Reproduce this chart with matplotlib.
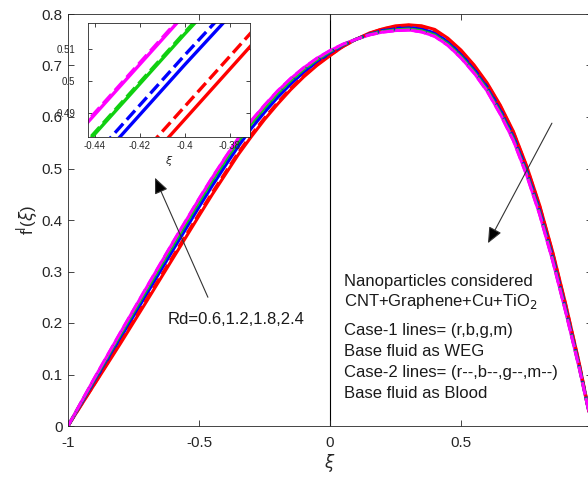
import matplotlib
matplotlib.use("Agg")
import matplotlib.pyplot as plt
import numpy as np

plt.rcParams['font.family'] = ['Liberation Sans', 'DejaVu Sans']
plt.rcParams['mathtext.fontset'] = 'dejavusans'

# values
xi = [-1, -0.95, -0.9, -0.8, -0.7, -0.6, -0.5, -0.45, -0.4, -0.35, -0.3, -0.25,
      -0.2, -0.15, -0.1, -0.05, 0, 0.05, 0.1, 0.15, 0.2, 0.25, 0.3, 0.35, 0.4,
      0.45, 0.5, 0.55, 0.6, 0.65, 0.7, 0.75, 0.8, 0.85, 0.9, 0.95, 1]

# case 1 (WEG), solid lines
red_1 = [0, 0.040, 0.080, 0.160, 0.242, 0.325, 0.408, 0.449, 0.488, 0.527, 0.562, 0.595,
         0.625, 0.653, 0.678, 0.700, 0.719, 0.737, 0.751, 0.763, 0.771, 0.777, 0.779,
         0.777, 0.770, 0.753, 0.730, 0.701, 0.666, 0.623, 0.572, 0.506, 0.429, 0.338,
         0.236, 0.125, 0]
blue_1 = [0, 0.043, 0.086, 0.171, 0.256, 0.341, 0.425, 0.466, 0.505, 0.543, 0.578, 0.609,
          0.638, 0.664, 0.687, 0.707, 0.724, 0.739, 0.751, 0.761, 0.768, 0.772, 0.774,
          0.771, 0.763, 0.746, 0.722, 0.693, 0.658, 0.614, 0.563, 0.497, 0.420, 0.329,
          0.228, 0.120, 0]
green_1 = [0, 0.0449, 0.0896, 0.1772, 0.2640, 0.3501, 0.4346, 0.4756, 0.5146, 0.5523,
           0.5869, 0.6173, 0.6455, 0.6704, 0.6923, 0.7111, 0.7269, 0.7404, 0.751,
           0.7600, 0.7661, 0.7694, 0.7709, 0.7675, 0.7592, 0.7419, 0.7177, 0.6884,
           0.6532, 0.6089, 0.5577, 0.4916, 0.4147, 0.3240, 0.2237, 0.1171, 0]
mag_1 = [0, 0.0461, 0.0920, 0.1812, 0.2690, 0.3559, 0.4407, 0.4817, 0.5207, 0.5582,
         0.5926, 0.6225, 0.6502, 0.6745, 0.6956, 0.7138, 0.7287, 0.7414, 0.751,
         0.7594, 0.7649, 0.7678, 0.7690, 0.7653, 0.7567, 0.7392, 0.7149, 0.6855,
         0.6501, 0.6057, 0.5544, 0.4882, 0.4114, 0.3208, 0.2209, 0.1153, 0]

# case 2 (Blood), dashed lines
red_2 = [0, 0.041, 0.081, 0.163, 0.246, 0.329, 0.412, 0.453, 0.492, 0.531, 0.566, 0.598,
         0.628, 0.656, 0.680, 0.702, 0.720, 0.737, 0.751, 0.762, 0.771, 0.775, 0.778,
         0.776, 0.768, 0.751, 0.728, 0.699, 0.664, 0.621, 0.570, 0.504, 0.427, 0.336,
         0.234, 0.124, 0]
blue_2 = [0, 0.0436, 0.0871, 0.1730, 0.2585, 0.3439, 0.4280, 0.4690, 0.5080, 0.5459,
          0.5808, 0.6116, 0.6403, 0.6660, 0.6887, 0.7083, 0.7249, 0.7395, 0.751,
          0.7607, 0.7674, 0.7712, 0.7730, 0.7699, 0.7618, 0.7447, 0.7206, 0.6916,
          0.6565, 0.6124, 0.5613, 0.4953, 0.4183, 0.3274, 0.2266, 0.1191, 0]
green_2 = [0, 0.0450, 0.0898, 0.1776, 0.2644, 0.3506, 0.4351, 0.4761, 0.5151, 0.5528,
           0.5874, 0.6177, 0.6459, 0.6708, 0.6926, 0.7113, 0.7270, 0.7405, 0.751,
           0.7600, 0.7660, 0.7693, 0.7708, 0.7674, 0.7590, 0.7417, 0.7175, 0.6882,
           0.6529, 0.6086, 0.5574, 0.4913, 0.4144, 0.3237, 0.2235, 0.1170, 0]
mag_2 = [0, 0.0462, 0.0922, 0.1815, 0.2694, 0.3564, 0.4412, 0.4822, 0.5212, 0.5587,
         0.5931, 0.6229, 0.6506, 0.6749, 0.6959, 0.7140, 0.7289, 0.7414, 0.751,
         0.7594, 0.7648, 0.7676, 0.7688, 0.7652, 0.7565, 0.7390, 0.7147, 0.6852,
         0.6499, 0.6054, 0.5541, 0.4879, 0.4111, 0.3206, 0.2207, 0.1151, 0]

RED, BLUE, GREEN, MAG = '#ff0000', '#0000ff', '#10d010', '#ff00ff'
solid = [(red_1, RED), (blue_1, BLUE), (green_1, GREEN), (mag_1, MAG)]
dashed = [(red_2, RED), (blue_2, BLUE), (green_2, GREEN), (mag_2, MAG)]

info_lines = ['Nanoparticles considered', 'CNT+Graphene+Cu+TiO$_2$',
              'Case-1 lines= (r,b,g,m)', 'Base fluid as WEG',
              'Case-2 lines= (r--,b--,g--,m--)', 'Base fluid as Blood']
info_y = [0.280, 0.241, 0.186, 0.144, 0.103, 0.064]

axc = (0.15, 0.15, 0.15)


def draw_curves(ax, lw):
    for y, c in solid:
        ax.plot(xi, y, color=c, lw=lw, solid_capstyle='butt')
    for y, c in dashed:
        ax.plot(xi, y, color=c, lw=lw, ls='--')


def style(ax, size, pad_x, pad_y):
    for s in ax.spines.values():
        s.set_color(axc)
        s.set_linewidth(0.6)
    ax.tick_params(direction='in', top=True, right=True, colors=axc,
                   labelsize=size, width=0.6, length=4)
    ax.tick_params(axis='x', pad=pad_x)
    ax.tick_params(axis='y', pad=pad_y)


fig = plt.figure(figsize=(5.88, 4.82), dpi=100)
ax = fig.add_axes([68 / 588, 56 / 482, 524 / 588, 412 / 482])
ax.axvline(0, color='k', lw=0.8, zorder=1)
draw_curves(ax, 2.2)
ax.set_xlim(-1, 1)
ax.set_ylim(0, 0.8)
ax.set_xticks([-1, -0.5, 0, 0.5, 1])
ax.set_xticklabels(['-1', '-0.5', '0', '0.5', ''])
ax.set_yticks(np.arange(0, 0.81, 0.1))
ax.set_yticklabels(['0', '0.1', '0.2', '0.3', '0.4', '0.5', '0.6', '0.7', '0.8'])
style(ax, 11, 7, 4)
ax.set_xlabel(r'$\xi$', fontsize=12, color=axc, labelpad=2)
ax.set_ylabel(r'f$^{\mathrm{l}}$($\xi$)', fontsize=12, color=axc, labelpad=1)

for t, y in zip(info_lines, info_y):
    ax.text(0.053, y, t, fontsize=12, color='0.1', va='center', ha='left')
ax.text(-0.359, 0.206, 'Rd=0.6,1.2,1.8,2.4', fontsize=12, color='0.1',
        va='center', ha='center')

arrow = dict(arrowstyle='-|>,head_length=0.8,head_width=0.35', mutation_scale=12,
             color='0.2', lw=0.8, fc='k', shrinkA=0, shrinkB=0)
ax.annotate('', xy=(-0.668, 0.482), xytext=(-0.466, 0.250), arrowprops=arrow)
ax.annotate('', xy=(0.603, 0.355), xytext=(0.847, 0.588), arrowprops=arrow)

# zoomed inset
ins = fig.add_axes([88 / 588, (482 - 137) / 482, 162 / 588, 114 / 482])
draw_curves(ins, 2.4)
ins.set_xlim(-0.443, -0.371)
ins.set_ylim(0.4825, 0.518)
ins.set_xticks([-0.44, -0.42, -0.4, -0.38])
ins.set_xticklabels(['-0.44', '-0.42', '-0.4', '-0.38'])
ins.set_yticks([0.49, 0.5, 0.51])
ins.set_yticklabels(['0.49', '0.5', '0.51'])
style(ins, 7, 3, 9)
ins.tick_params(length=3)
ins.set_xlabel(r'$\xi$', fontsize=8, color=axc, labelpad=2)

fig.savefig('out.png', dpi=100)
